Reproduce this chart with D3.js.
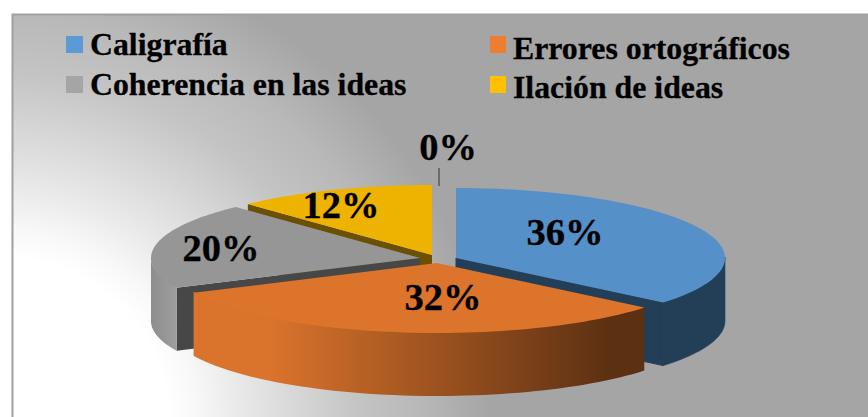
<!DOCTYPE html>
<html>
<head>
<meta charset="utf-8">
<script src="https://cdn.jsdelivr.net/npm/d3@7"></script>
<style>
html, body { margin: 0; padding: 0; background: #fff; }
svg { display: block; }
text { font-family: "Liberation Serif", serif; font-weight: bold; fill: #000; stroke: #000; stroke-width: 0.3px; }
</style>
</head>
<body>
<svg width="868" height="417"></svg>
<script>
var categories = ['Caligrafía', 'Errores ortográficos', 'Coherencia en las ideas', 'Ilación de ideas', ''];
var values = [36, 32, 20, 12, 0];
var labels = ['36%', '32%', '20%', '12%', '0%'];

var topColors = ['#5590c8', '#dc742c', '#969696', '#eeb200'];
var innerColors = ['#233f58', '#5c3012', '#474747', '#6a5000'];
var legendColors = ['#5b9bd5', '#ed7d31', '#a5a5a5', '#ffc000'];

// where each exploded slice has its apex
var apexes = [[456, 258], [437, 263], [420, 258], [432, 255]];
var rx = 269, ry = 70, depth = 63;

var svg = d3.select('svg');
var defs = svg.append('defs');

var bg = defs.append('radialGradient').attr('id', 'bg')
	.attr('gradientUnits', 'userSpaceOnUse')
	.attr('cx', 0).attr('cy', 0).attr('r', 1)
	.attr('gradientTransform', 'translate(0,417) scale(490,470)');
[[0.34, '#ffffff'], [0.4, '#f8f8f8'], [0.47, '#ececec'], [0.6, '#d8d8d8'], [0.73, '#c4c4c4'], [0.86, '#b8b8b8'], [1, '#a5a5a5']]
	.forEach(function (s) {
		bg.append('stop').attr('offset', s[0]).attr('stop-color', s[1]);
	});

function wallGradient(id, x1, x2, from, to) {
	var g = defs.append('linearGradient').attr('id', id)
		.attr('gradientUnits', 'userSpaceOnUse')
		.attr('x1', x1).attr('x2', x2).attr('y1', 0).attr('y2', 0);
	g.append('stop').attr('offset', 0).attr('stop-color', from);
	g.append('stop').attr('offset', 1).attr('stop-color', to);
}
wallGradient('wall0', 600, 725, '#233f58', '#233f58');
wallGradient('wall1', 270, 610, '#da732c', '#5c3012');
wallGradient('wall2', 152, 180, '#8e8e8e', '#a0a0a0');
wallGradient('wall3', 248, 432, '#6a5000', '#6a5000');

svg.append('rect')
	.attr('x', 12.5).attr('y', 14.5)
	.attr('width', 880).attr('height', 430)
	.attr('fill', 'url(#bg)')
	.attr('stroke', '#a0a0a0')
	.attr('stroke-width', 2);

var pie = d3.pie().sort(null).value(function (d) { return d; });
var arcs = pie(values);

function px(d, a) { return apexes[d.index][0] + rx * Math.sin(a); }
function py(d, a) { return apexes[d.index][1] - ry * Math.cos(a); }

// elliptical rim between two angles, sampled along the arc
function rim(d, a0, a1, dy) {
	return d3.range(0, 61).map(function (i) {
		var a = a0 + (a1 - a0) * i / 60;
		return [px(d, a), py(d, a) + dy];
	});
}
var line = d3.line();

function topPath(d) {
	return line([apexes[d.index]].concat(rim(d, d.startAngle, d.endAngle, 0))) + 'Z';
}
function radialFace(d, a) {
	var c = apexes[d.index];
	return line([c, [px(d, a), py(d, a)], [px(d, a), py(d, a) + depth], [c[0], c[1] + depth]]) + 'Z';
}
function outerWall(d) {
	// only the front half of the ellipse can be seen
	var a0 = Math.max(d.startAngle, Math.PI / 2);
	var a1 = Math.min(d.endAngle, Math.PI * 1.5);
	if (a0 >= a1) return null;
	// upper rim goes 1px under the top face, otherwise a seam shows
	var upper = rim(d, a0, a1, -1);
	var lower = rim(d, a1, a0, depth);
	return line(upper.concat(lower)) + 'Z';
}

// back to front: yellow, blue, gray, orange
var drawOrder = [3, 0, 2, 1];
drawOrder.forEach(function (i) {
	var d = arcs[i];
	var g = svg.append('g').attr('class', 'slice');
	// faces turned towards the viewer
	if (i === 0) {
		g.append('path').attr('d', radialFace(d, d.startAngle)).attr('fill', innerColors[i]);
		g.append('path').attr('d', radialFace(d, d.endAngle))
			.attr('fill', innerColors[i]).attr('stroke', innerColors[i]);
	}
	if (i === 2) g.append('path').attr('d', radialFace(d, d.startAngle)).attr('fill', innerColors[i]);
	if (i === 3) {
		g.append('path').attr('d', radialFace(d, d.startAngle)).attr('fill', innerColors[i]);
		g.append('path').attr('d', radialFace(d, d.endAngle)).attr('fill', innerColors[i]);
	}
	var wall = outerWall(d);
	if (wall) {
		var w = g.append('path').attr('d', wall).attr('fill', 'url(#wall' + i + ')');
		if (i === 0) w.attr('stroke', innerColors[i]).attr('stroke-width', 0.6);
	}
	g.append('path').attr('d', topPath(d)).attr('fill', topColors[i]);
});

// legend
var legendX = [66, 490];
var legendTextY = [55, 59, 95, 98];
var legend = svg.selectAll('g.legend')
	.data(categories.slice(0, 4))
	.enter().append('g')
	.attr('class', 'legend');
legend.append('rect')
	.attr('x', function (d, i) { return legendX[i % 2]; })
	.attr('y', function (d, i) { return i < 2 ? 36 : 76; })
	.attr('width', function (d, i) { return i % 2 ? 16 : 17; })
	.attr('height', 17)
	.attr('fill', function (d, i) { return legendColors[i]; });
legend.append('text')
	.attr('x', function (d, i) { return legendX[i % 2] + (i % 2 ? 23 : 24); })
	.attr('y', function (d, i) { return legendTextY[i]; })
	.style('font-size', '31.8px')
	.text(function (d) { return d; });

// data labels
var labelX = [565, 443, 221, 341, 448];
var labelY = [245, 310, 261, 218, 160];
svg.selectAll('text.pct')
	.data(labels)
	.enter().append('text')
	.attr('class', 'pct')
	.attr('x', function (d, i) { return labelX[i]; })
	.attr('y', function (d, i) { return labelY[i]; })
	.attr('text-anchor', 'middle')
	.style('font-size', '38.5px')
	.text(function (d) { return d; });

// leader line of the 0% label
svg.append('line')
	.attr('x1', 439).attr('x2', 439)
	.attr('y1', 168).attr('y2', 186)
	.attr('stroke', '#333').attr('stroke-width', 1);
</script>
</body>
</html>
